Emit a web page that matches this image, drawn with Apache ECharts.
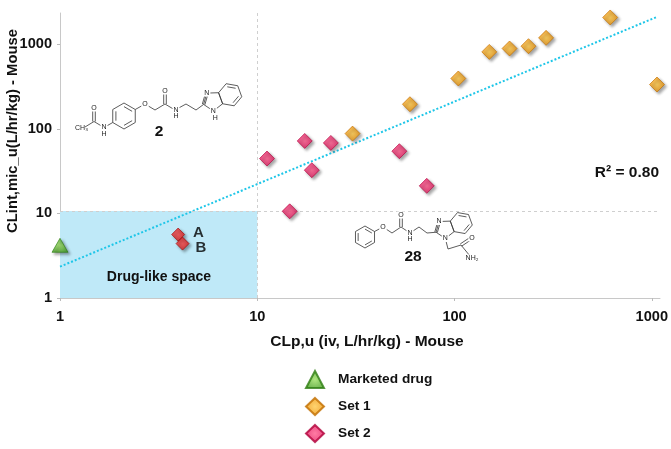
<!DOCTYPE html>
<html>
<head>
<meta charset="utf-8">
<script src="https://cdn.jsdelivr.net/npm/echarts@6/dist/echarts.min.js"></script>
<style>
  html, body { margin: 0; padding: 0; background: #fff; }
  #chart { width: 671px; height: 449px; }
</style>
</head>
<body>
<div id="chart"></div>
<script>
// tick positions (log axes)
var xTicks = [1, 10, 100, 1000];
var yTicks = [1, 10, 100, 1000];

// marketed drug
var drugX = [1];
var drugY = [4.2];

// Set 1 (orange)
var set1X = [30.4, 59.4, 104.5, 150, 190, 237, 291, 615, 1062];
var set1Y = [88, 196, 395, 815, 894, 952, 1194, 2080, 335];

// Set 2 (pink)
var set2X = [11.2, 14.6, 17.4, 18.9, 23.6, 52.5, 72.3];
var set2Y = [44.6, 10.6, 72.1, 32.5, 68.3, 54.5, 21.2];

// compounds A and B
var leadNames = ['A', 'B'];
var leadX = [3.97, 4.18];
var leadY = [5.63, 4.40];

// regression line ends
var fitX = [1, 1062];
var fitY = [2.35, 2115];

// drug-like box
var boxX = [1, 10];
var boxY = [1, 10.7];

var FONT = 'Liberation Sans, Arial, sans-serif';

function zip(xs, ys) {
    var out = [];
    for (var i = 0; i < xs.length; i++) out.push([xs[i], ys[i]]);
    return out;
}

function bevel(light, dark, edge) {
    return {
        color: {
            type: 'radial', x: 0.5, y: 0.5, r: 0.6,
            colorStops: [{offset: 0, color: light}, {offset: 1, color: dark}]
        },
        borderColor: edge,
        borderWidth: 0.8,
        shadowBlur: 3,
        shadowColor: 'rgba(0,0,0,0.45)',
        shadowOffsetX: 2,
        shadowOffsetY: 2
    };
}

// ---- little skeletal structures drawn with graphic elements ----
var gfx = [];
function bond(x1, y1, x2, y2) {
    gfx.push({type: 'line', shape: {x1: x1, y1: y1, x2: x2, y2: y2},
        style: {stroke: '#333', lineWidth: 0.8}, z: 50});
}
function dbl(x1, y1, x2, y2) {
    var dx = x2 - x1, dy = y2 - y1, l = Math.sqrt(dx * dx + dy * dy);
    var nx = -dy / l * 1.3, ny = dx / l * 1.3;
    bond(x1 + nx, y1 + ny, x2 + nx, y2 + ny);
    bond(x1 - nx, y1 - ny, x2 - nx, y2 - ny);
}
function chain(pts) {
    for (var i = 0; i < pts.length - 1; i++) bond(pts[i][0], pts[i][1], pts[i + 1][0], pts[i + 1][1]);
}
function ringPts(cx, cy, r, n, a0) {
    var p = [];
    for (var k = 0; k < n; k++) {
        var a = (a0 + 360 / n * k) * Math.PI / 180;
        p.push([cx + r * Math.cos(a), cy + r * Math.sin(a)]);
    }
    return p;
}
function ring(p, inner, cx, cy) {
    chain(p.concat([p[0]]));
    if (inner) {
        for (var k = 0; k < p.length; k += 2) {
            var a = p[k], b = p[(k + 1) % p.length], f = 0.72;
            bond(cx + (a[0] - cx) * f, cy + (a[1] - cy) * f, cx + (b[0] - cx) * f, cy + (b[1] - cy) * f);
        }
    }
}
function atom(t, x, y) {
    gfx.push({type: 'text', x: x, y: y, z: 51,
        style: {text: t, font: '7px ' + FONT, fill: '#222', align: 'center', verticalAlign: 'middle',
            backgroundColor: '#fff', padding: [0, 1]}});
}
function benzimidazole(cx, cy, r, a0) {
    var p = ringPts(cx, cy, r, 5, a0);
    chain(p.concat([p[0]]));
    dbl(p[0][0], p[0][1], p[1][0], p[1][1]);
    var mx = (p[2][0] + p[3][0]) / 2, my = (p[2][1] + p[3][1]) / 2;
    var dx = mx - cx, dy = my - cy, dl = Math.sqrt(dx * dx + dy * dy);
    var ex = p[3][0] - p[2][0], ey = p[3][1] - p[2][1], L = Math.sqrt(ex * ex + ey * ey);
    var hx = mx + dx / dl * L * 0.866, hy = my + dy / dl * L * 0.866;
    var a = Math.atan2(p[2][1] - hy, p[2][0] - hx) * 180 / Math.PI;
    var h = ringPts(hx, hy, L, 6, a);
    ring(h, false);
    var order = [1, 3];
    for (var i = 0; i < order.length; i++) {
        var s = h[order[i]], e = h[(order[i] + 1) % 6], f = 0.72;
        bond(hx + (s[0] - hx) * f, hy + (s[1] - hy) * f, hx + (e[0] - hx) * f, hy + (e[1] - hy) * f);
    }
    return p;
}

// compound 2
(function () {
    var p = ringPts(124, 116, 13, 6, -90);
    ring(p, true, 124, 116);
    chain([p[4], [104, 127.5], [94, 121.5], [85, 127]]);
    dbl(94, 121.5, 94, 110);
    atom('O', 94, 108);
    atom('N', 104, 127);
    atom('H', 104, 134);
    gfx.push({type: 'text', x: 88, y: 128, z: 51,
        style: {text: 'CH₃', font: '7px ' + FONT, fill: '#222', align: 'right', verticalAlign: 'middle'}});
    var im = benzimidazole(213, 101, 10, 160);
    chain([p[1], [145, 104], [155, 110], [165, 104], [175, 110], [186, 104], [196, 110], im[0]]);
    dbl(165, 104, 165, 93);
    atom('O', 165, 91);
    atom('O', 145, 104);
    atom('N', 176, 110);
    atom('H', 176, 116);
    atom('N', im[1][0], im[1][1]);
    atom('N', im[4][0], im[4][1]);
    atom('H', im[4][0] + 2, im[4][1] + 7);
})();

// compound 28
(function () {
    var p = ringPts(365, 237, 11, 6, -90);
    ring(p, true, 365, 237);
    var im = benzimidazole(445, 229, 9.5, 160);
    chain([p[1], [383, 227], [392, 233], [401, 227], [410, 233], [419, 227], [427, 233], im[0]]);
    dbl(401, 227, 401, 217);
    atom('O', 401, 215);
    atom('O', 383, 227);
    atom('N', 410, 233);
    atom('H', 410, 239);
    chain([im[4], [448, 249], [461, 245], [470, 256]]);
    dbl(461, 245, 470, 239);
    atom('O', 472, 238);
    atom('NH₂', 472, 258);
    atom('N', im[1][0], im[1][1]);
    atom('N', im[4][0], im[4][1]);
})();

// annotation texts
gfx.push({type: 'text', x: 159, y: 277, z: 40,
    style: {text: 'Drug-like space', font: 'bold 14px ' + FONT, fill: '#111', align: 'center', verticalAlign: 'middle'}});
gfx.push({type: 'text', x: 659, y: 173, z: 40,
    style: {text: 'R² = 0.80', font: 'bold 15.5px ' + FONT, fill: '#111', align: 'right', verticalAlign: 'middle'}});
gfx.push({type: 'text', x: 159, y: 132, z: 40,
    style: {text: '2', font: 'bold 15.5px ' + FONT, fill: '#111', align: 'center', verticalAlign: 'middle'}});
gfx.push({type: 'text', x: 413, y: 257, z: 40,
    style: {text: '28', font: 'bold 15.5px ' + FONT, fill: '#111', align: 'center', verticalAlign: 'middle'}});
// y axis title (sits above the axis middle in the original)
gfx.push({type: 'text', x: 13, y: 131, rotation: Math.PI / 2, z: 40,
    style: {text: 'CLint,mic_u(L/hr/kg) - Mouse', font: 'bold 14.8px ' + FONT, fill: '#111',
        align: 'center', verticalAlign: 'middle'}});

function plain(v) {
    return String(Math.round(v));
}

var chart = echarts.init(document.getElementById('chart'));

var option = {
    animation: false,
    backgroundColor: '#fff',
    grid: {left: 60, right: 11, top: 13, bottom: 151, outerBoundsMode: 'none', containLabel: false},
    textStyle: {fontFamily: FONT},
    legend: {
        data: ['Marketed drug', 'Set 1', 'Set 2'],
        orient: 'vertical',
        left: 305,
        top: 370,
        padding: 0,
        itemWidth: 18,
        itemHeight: 17,
        itemGap: 8,
        textStyle: {fontFamily: FONT, fontWeight: 'bold', fontSize: 13.7, color: '#111', padding: [0, 0, 0, 9]}
    },
    xAxis: {
        type: 'log',
        logBase: 10,
        min: 1,
        max: 1100,
        name: 'CLp,u (iv, L/hr/kg) - Mouse',
        nameLocation: 'middle',
        nameGap: 36,
        nameTextStyle: {fontFamily: FONT, fontWeight: 'bold', fontSize: 15.5, color: '#111', padding: [0, 0, 0, 14]},
        axisLine: {lineStyle: {color: '#c8c8c8'}},
        axisTick: {customValues: xTicks, length: 3, lineStyle: {color: '#bbb'}},
        axisLabel: {customValues: xTicks, formatter: plain, fontFamily: FONT, fontWeight: 'bold', fontSize: 14.6, color: '#111', margin: 11},
        splitLine: {show: false}
    },
    yAxis: {
        type: 'log',
        logBase: 10,
        min: 1,
        max: 2350,
        axisLine: {show: true, lineStyle: {color: '#c8c8c8'}},
        axisTick: {show: true, customValues: yTicks, length: 3, lineStyle: {color: '#bbb'}},
        axisLabel: {customValues: yTicks, formatter: plain, fontFamily: FONT, fontWeight: 'bold', fontSize: 14.6, color: '#111', margin: 8},
        splitLine: {show: false}
    },
    graphic: gfx,
    series: [
        {
            // background box + reference lines
            type: 'line',
            data: [],
            z: 1,
            silent: true,
            markArea: {
                silent: true,
                itemStyle: {color: '#bfe9f8'},
                data: [[{coord: [boxX[0], boxY[0]]}, {coord: [boxX[1], boxY[1]]}]]
            },
            markLine: {
                silent: true,
                symbol: 'none',
                label: {show: false},
                lineStyle: {type: [3, 3], color: '#cfcfcf', width: 1},
                data: [{xAxis: boxX[1]}, {yAxis: boxY[1]}]
            }
        },
        {
            name: 'fit',
            type: 'line',
            data: zip(fitX, fitY),
            symbol: 'none',
            silent: true,
            z: 3,
            lineStyle: {color: '#1ec6e8', width: 2, type: [2, 2]}
        },
        {
            name: 'Marketed drug',
            type: 'scatter',
            symbol: 'triangle',
            symbolSize: [16, 14],
            z: 5,
            itemStyle: bevel('#9be060', '#3f9a1c', '#2e7d12'),
            data: zip(drugX, drugY)
        },
        {
            name: 'Set 1',
            type: 'scatter',
            symbol: 'diamond',
            symbolSize: 15,
            z: 5,
            itemStyle: bevel('#ffc94a', '#ec8b00', '#c06e00'),
            data: zip(set1X, set1Y)
        },
        {
            name: 'Set 2',
            type: 'scatter',
            symbol: 'diamond',
            symbolSize: 15,
            z: 5,
            itemStyle: bevel('#ff5a8c', '#e0105a', '#b0003a'),
            data: zip(set2X, set2Y)
        },
        {
            name: 'leads',
            type: 'scatter',
            symbol: 'diamond',
            symbolSize: 13,
            z: 6,
            itemStyle: bevel('#ff4a4a', '#d81818', '#a00000'),
            label: {
                show: true,
                position: 'right',
                distance: 6,
                formatter: '{b}',
                fontFamily: FONT,
                fontWeight: 'bold',
                fontSize: 15,
                color: '#000',
                textBorderWidth: 0,
                textShadowBlur: 0
            },
            data: leadNames.map(function (n, i) {
                return {name: n, value: [leadX[i], leadY[i]], label: {offset: [i === 0 ? 2 : 0, i === 0 ? -2 : 4]}};
            })
        }
    ]
};

chart.setOption(option);
</script>
</body>
</html>
